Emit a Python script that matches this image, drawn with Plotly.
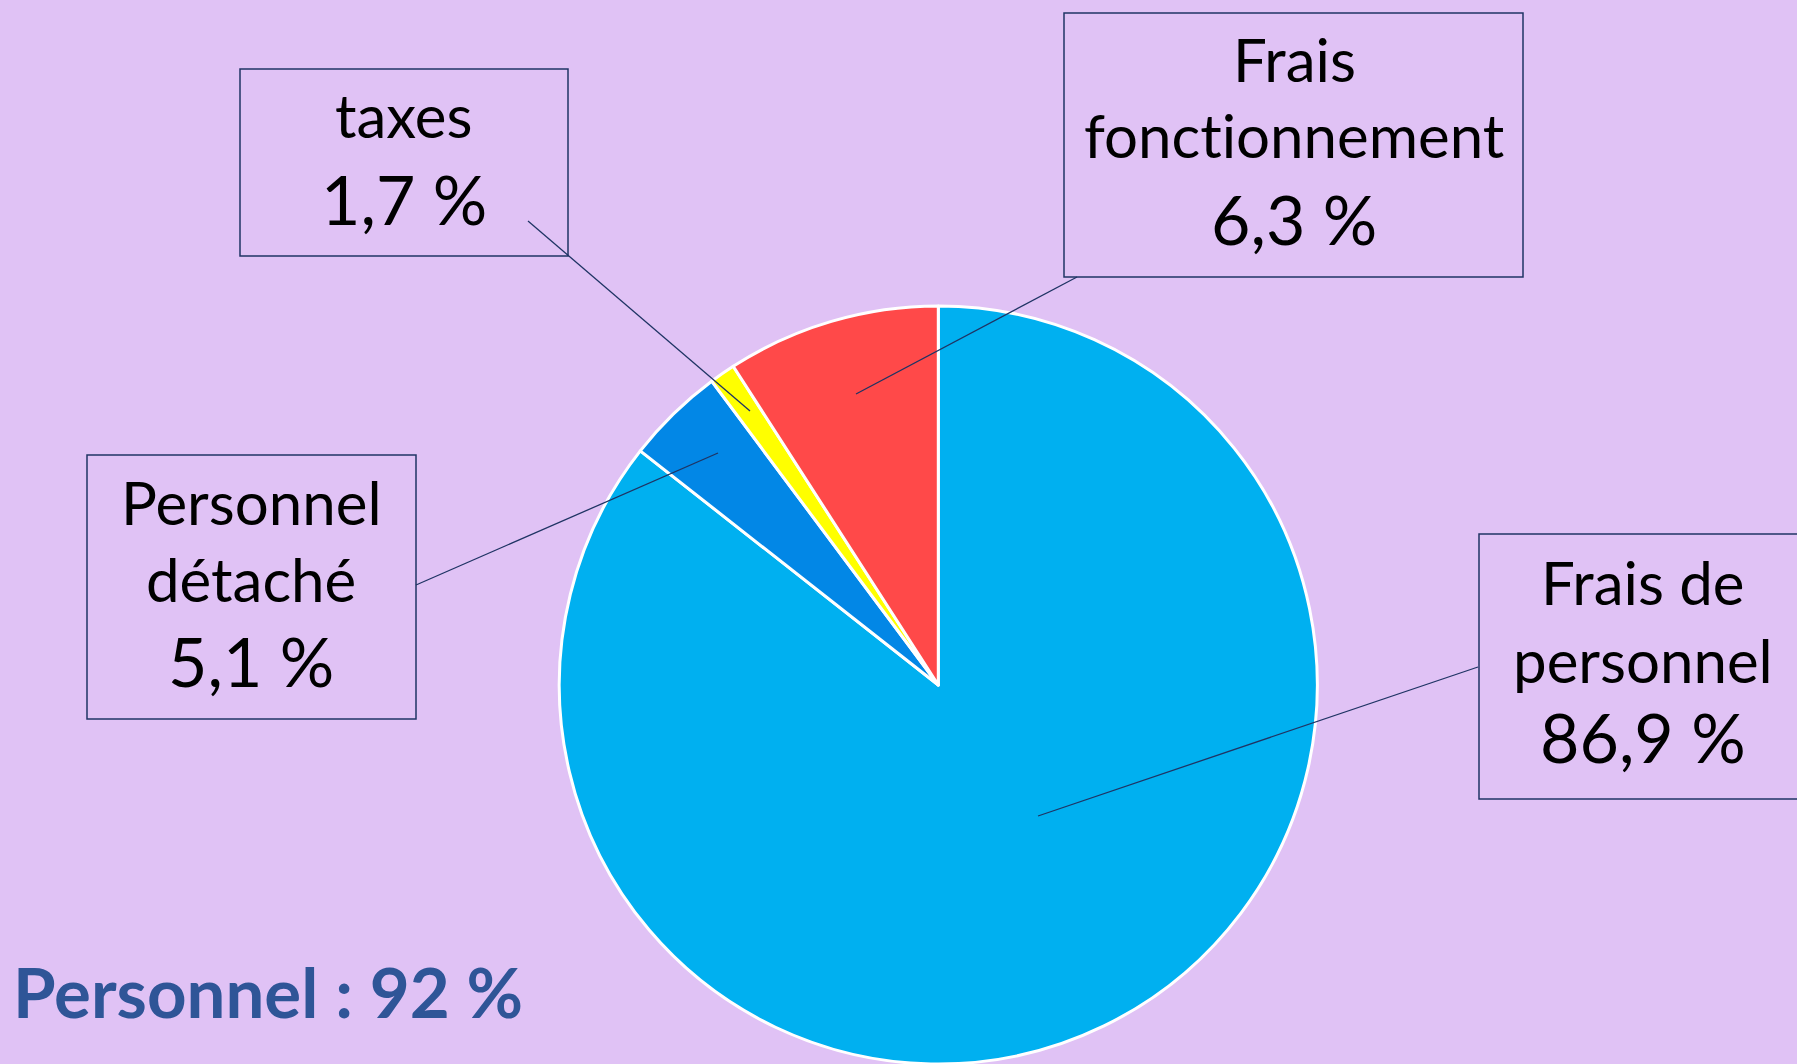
import plotly.graph_objects as go

# Data
categories = ["Frais de personnel", "Personnel détaché", "taxes", "Frais fonctionnement"]
slice_values = [85.6, 4.2, 1.1, 9.1]          # slice sizes as drawn (clockwise from 12 o'clock)
label_pcts = ["86,9 %", "5,1 %", "1,7 %", "6,3 %"]  # percentages printed in the call-out boxes
label_words = [["Frais de", "personnel"], ["Personnel", "détaché"], ["taxes"], ["Frais", "fonctionnement"]]
slice_colors = ["#00B0F0", "#0287E6", "#FFFF00", "#FF4949"]
summary_text = "Personnel : 92 %"

W, H = 1797, 1064
BG = "#E0C2F5"
NAVY = "#1F3464"
FONT = "Lato, 'Open Sans', sans-serif"
WORD_SIZE = 60
PCT_SIZE = 68
NOLIG = "font-variant-ligatures:none;font-feature-settings:'liga' 0, 'clig' 0, 'calt' 0"

def px(x):
    return x / W

def py(y):
    return 1 - y / H

fig = go.Figure()
fig.add_trace(go.Pie(
    labels=categories,
    values=slice_values,
    sort=False,
    direction="clockwise",
    rotation=0,
    marker=dict(colors=slice_colors, line=dict(color="white", width=3)),
    textinfo="none",
    hoverinfo="label+percent",
    showlegend=False,
    domain=dict(x=[px(938.3 - 379), px(938.3 + 379)], y=[0, 758 / H]),
))

# call-out boxes: rect (left, top, right, bottom), text centre x, baselines of each line, leader line
boxes = [
    ((1479, 534, 1812, 799), 1643, [605, 683, 763], (1478, 667, 1038, 816)),
    ((87, 455, 416, 719), 251, [525, 602, 687], (416, 585, 718, 453)),
    ((240, 69, 568, 256), 404, [138, 225], (528, 221, 750, 411)),
    ((1064, 13, 1523, 277), 1294, [82, 158, 245], (1077, 277, 856, 394)),
]

shapes = []
annotations = []
for i, (rect, cx, baselines, ln) in enumerate(boxes):
    l, t, r, b = rect
    shapes.append(dict(type="rect", xref="paper", yref="paper",
                       x0=px(l), x1=px(r), y0=py(b), y1=py(t),
                       line=dict(color=NAVY, width=1.5), fillcolor="rgba(0,0,0,0)", layer="above"))
    x0, y0, x1, y1 = ln
    shapes.append(dict(type="line", xref="paper", yref="paper",
                       x0=px(x0), y0=py(y0), x1=px(x1), y1=py(y1),
                       line=dict(color=NAVY, width=1.3), layer="above"))
    lines = label_words[i] + [label_pcts[i]]
    for j, txt in enumerate(lines):
        size = PCT_SIZE if j == len(lines) - 1 else WORD_SIZE
        annotations.append(dict(
            xref="paper", yref="paper", x=px(cx), y=py(baselines[j] - 0.387 * size),
            xanchor="center", yanchor="middle", showarrow=False,
            text='<span style="%s">%s</span>' % (NOLIG, txt),
            font=dict(family=FONT, size=size, color="black"),
        ))

annotations.append(dict(
    xref="paper", yref="paper", x=px(11), y=py(1018 - 0.387 * 69),
    xanchor="left", yanchor="middle", showarrow=False,
    text="<b>" + summary_text + "</b>",
    font=dict(family=FONT, size=69, color="#2F5597"),
))

fig.update_layout(
    width=W, height=H,
    margin=dict(l=0, r=0, t=0, b=0),
    paper_bgcolor=BG, plot_bgcolor=BG,
    shapes=shapes,
    annotations=annotations,
)

fig.write_html("out.html", config={"displayModeBar": False},
               post_script="document.body.style.margin='0';document.body.style.overflow='hidden';"
                           "document.querySelectorAll('svg text, svg tspan').forEach(function(t){"
                           "t.style.fontVariantLigatures='none';t.style.fontFeatureSettings=\"'liga' 0\";});")
